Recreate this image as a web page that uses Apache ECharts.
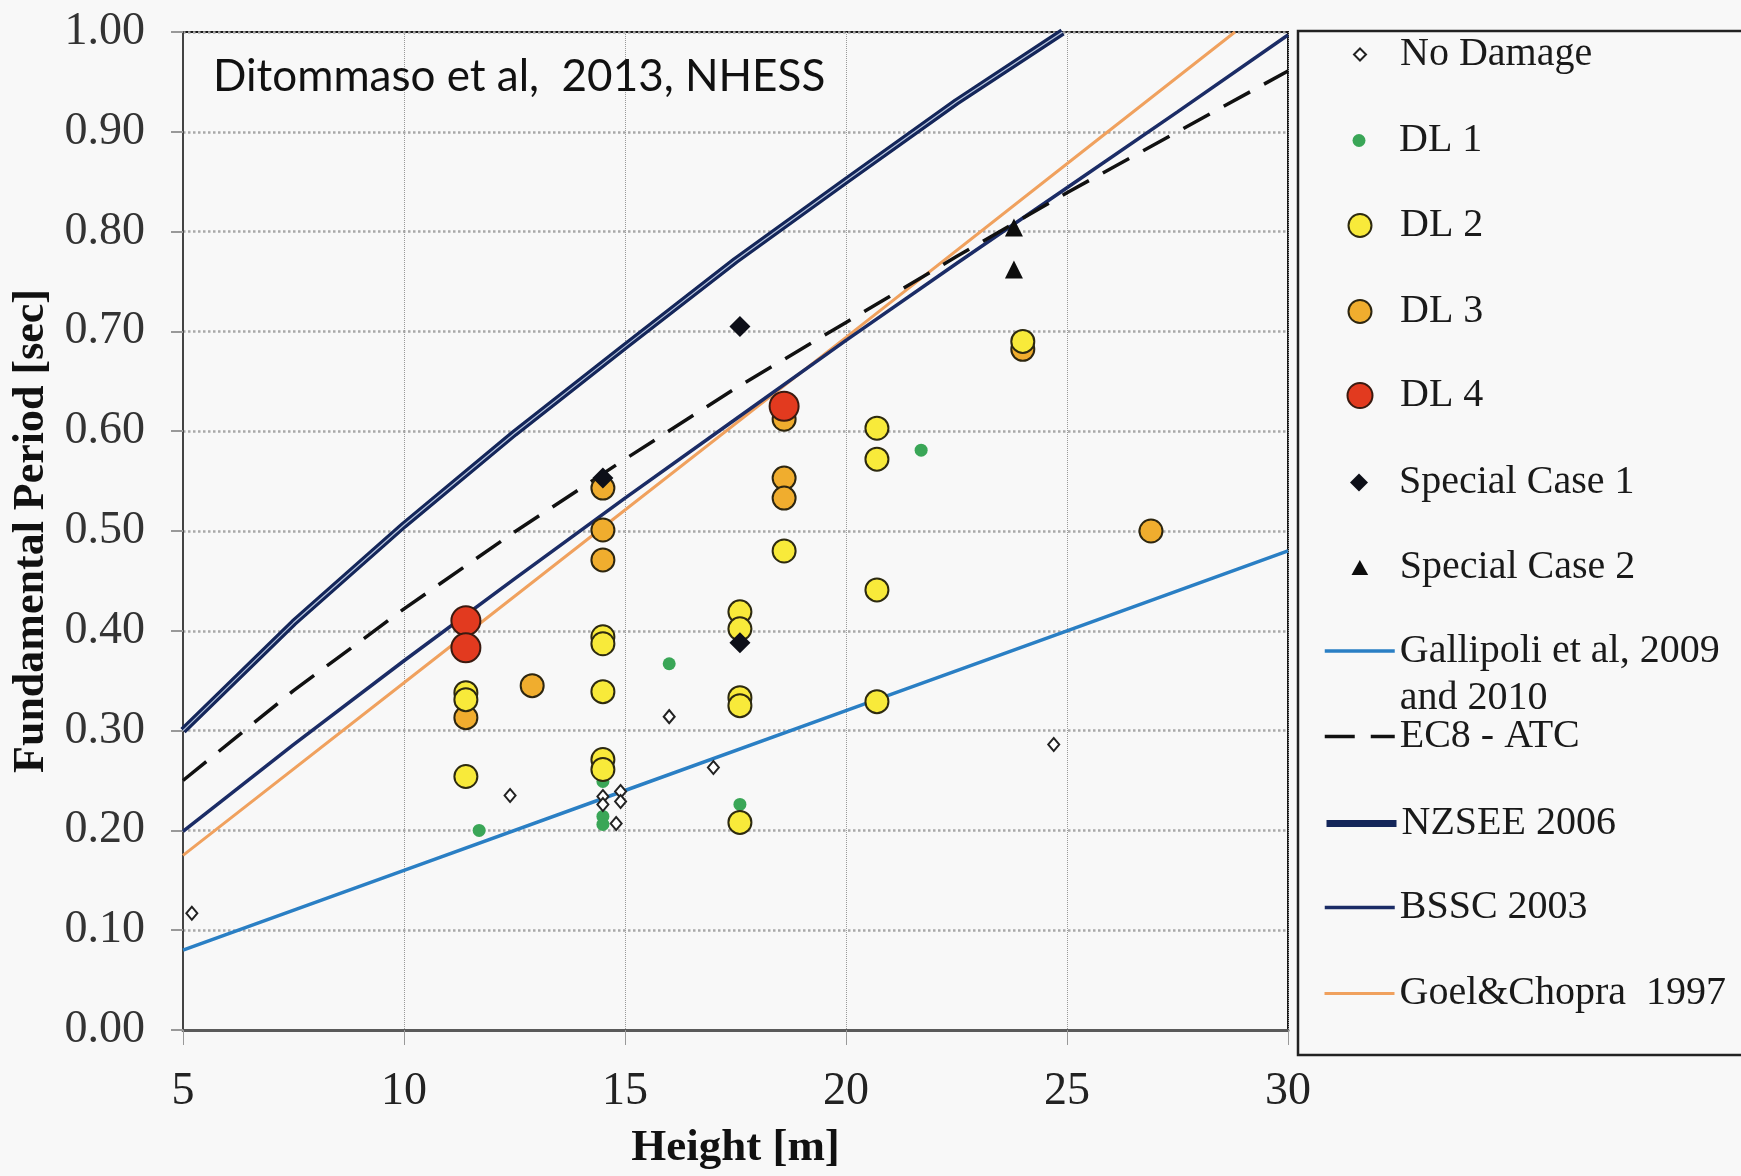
<!DOCTYPE html>
<html>
<head>
<meta charset="utf-8">
<title>Fundamental period vs height</title>
<script src="https://cdn.jsdelivr.net/npm/echarts@6/dist/echarts.min.js"></script>
<style>
  html, body { margin: 0; padding: 0; background: #f8f8f8; }
  #chart { width: 1741px; height: 1176px; }
</style>
</head>
<body>
<div id="chart"></div>
<script>
// axis ticks
const xTicks = [5, 10, 15, 20, 25, 30]
const yTicks = [0, 0.1, 0.2, 0.3, 0.4, 0.5, 0.6, 0.7, 0.8, 0.9, 1.0]

const noDamage = [[5.2, 0.117], [12.4, 0.235], [14.5, 0.234], [14.5, 0.226], [14.9, 0.239],
  [14.9, 0.229], [14.8, 0.207], [16.0, 0.314], [17.0, 0.263], [24.7, 0.286]]
const dl1 = [[11.7, 0.200], [14.5, 0.249], [14.5, 0.214], [14.5, 0.206], [16.0, 0.367],
  [17.6, 0.226], [21.7, 0.581]]
const dl2 = [[11.4, 0.338], [11.4, 0.331], [11.4, 0.254], [14.5, 0.394], [14.5, 0.387],
  [14.5, 0.339], [14.5, 0.271], [14.5, 0.261], [17.6, 0.419], [17.6, 0.402], [17.6, 0.333],
  [17.6, 0.325], [17.6, 0.208], [18.6, 0.480], [20.7, 0.603], [20.7, 0.572], [20.7, 0.441],
  [20.7, 0.329], [24.0, 0.690]]
const dl3 = [[11.4, 0.313], [12.9, 0.345], [14.5, 0.543], [14.5, 0.501], [14.5, 0.471],
  [18.6, 0.612], [18.6, 0.553], [18.6, 0.533], [24.0, 0.682], [26.9, 0.500]]
const dl4 = [[11.4, 0.410], [11.4, 0.383], [18.6, 0.625]]
const special1 = [[14.5, 0.553], [17.6, 0.705], [17.6, 0.388]]
const special2 = [[23.8, 0.804], [23.8, 0.762]]

// period-height relationships, points
const gallipoli = [[5, 0.08], [10, 0.16], [15, 0.24], [20, 0.32], [25, 0.40], [30, 0.48]]
const ec8 = [[5, 0.25], [7.5, 0.34], [10, 0.422], [12.5, 0.499], [15, 0.572], [17.5, 0.643],
  [20, 0.709], [22.5, 0.775], [25, 0.839], [27.5, 0.90], [30, 0.961]]
const nzsee = [[5, 0.30], [7.5, 0.408], [10, 0.506], [12.5, 0.598], [15, 0.685], [17.5, 0.771],
  [20, 0.851], [22.5, 0.93], [24.9, 1.0]]
const bssc = [[5, 0.199], [7.5, 0.286], [10, 0.37], [12.5, 0.452], [15, 0.533], [17.5, 0.612],
  [20, 0.691], [22.5, 0.768], [25, 0.844], [27.5, 0.92], [30, 0.997]]
const goel = [[5, 0.175], [10, 0.348], [15, 0.521], [20, 0.694], [25, 0.868], [28.8, 1.0]]

const serif = 'Liberation Serif'
const chart = echarts.init(document.getElementById('chart'))

// one legend per row so each marker keeps its own size.
// markers are centred on x=1359, text starts at x=1399
const legendRows = [
  { name: 'No Damage', y: 53, h: 12, icon: 'path://M0,-1L1,0L0,1L-1,0Z' },
  { name: 'DL 1', y: 139, h: 13 },
  { name: 'DL 2', y: 224, h: 23 },
  { name: 'DL 3', y: 310, h: 23 },
  { name: 'DL 4', y: 394, h: 25 },
  { name: 'Special Case 1', y: 481, h: 18, icon: 'path://M0,-1L1,0L0,1L-1,0Z' },
  { name: 'Special Case 2', y: 566, h: 15, icon: 'path://M0,-1L1,0.8L-1,0.8Z' },
  { name: 'Gallipoli et al, 2009', y: 651, line: 3.5, text: '\nGallipoli et al, 2009\nand 2010' },
  { name: 'EC8 - ATC', y: 735, line: 3.5 },
  { name: 'NZSEE 2006', y: 822, line: 7 },
  { name: 'BSSC 2003', y: 906, line: 3.5 },
  { name: 'Goel&Chopra  1997', y: 992, line: 3 }
]

const legendText = { fontFamily: serif, fontSize: 40, color: '#1a1a1a' }

const legends = legendRows.map(r => {
  const base = {
    data: [r.icon ? { name: r.name, icon: r.icon } : r.name],
    orient: 'vertical',
    padding: 0,
    itemWidth: 70,
    selectedMode: false
  }
  if (r.line) {
    return Object.assign(base, {
      left: 1323,
      top: r.text ? r.y - 70.5 : r.y - 18.5,
      itemHeight: 14,
      formatter: r.text ? () => r.text : '{name}',
      itemStyle: { color: 'transparent', borderWidth: 0, opacity: 0 },
      lineStyle: { width: r.line },
      textStyle: r.text ? Object.assign({ lineHeight: 47 }, legendText) : legendText
    })
  }
  return Object.assign(base, {
    left: 1359 - r.h / 2,
    top: r.y - 18.5,
    itemHeight: r.h,
    textStyle: legendText
  })
})

const curve = (name, data, color, width, type) => ({
  name,
  type: 'line',
  data,
  symbol: 'none',
  clip: true,
  silent: true,
  lineStyle: { color, width, type: type || 'solid' },
  itemStyle: { color },
  z: 2
})

const points = (name, data, symbol, size, style) => ({
  name,
  type: 'scatter',
  data,
  symbol,
  symbolSize: size,
  itemStyle: Object.assign({ opacity: 1 }, style),
  emphasis: { disabled: true },
  z: 3
})

chart.setOption({
  backgroundColor: '#f8f8f8',
  animation: false,
  title: {
    text: 'Ditommaso et al,  2013, NHESS',
    left: 208,
    top: 50,
    textStyle: { fontFamily: 'Lato', fontSize: 44, fontWeight: 'normal', color: '#111' }
  },
  grid: {
    left: 183, top: 32, width: 1105, height: 1001,
    show: true, borderColor: '#1a1a1a', borderWidth: 2, backgroundColor: 'transparent'
  },
  legend: legends,
  xAxis: {
    type: 'value',
    min: xTicks[0],
    max: xTicks[xTicks.length - 1],
    interval: xTicks[1] - xTicks[0],
    name: 'Height [m]',
    nameLocation: 'middle',
    nameGap: 96,
    nameTextStyle: { fontFamily: serif, fontSize: 45, fontWeight: 'bold', color: '#111' },
    axisLine: { show: true, lineStyle: { color: '#5a5a5a', width: 3 } },
    axisTick: { show: true, length: 15, lineStyle: { color: '#999', width: 1 } },
    axisLabel: { fontFamily: serif, fontSize: 46, color: '#222', margin: 39 },
    splitLine: { show: true, lineStyle: { color: '#999', width: 1, type: 'dotted' } }
  },
  yAxis: {
    type: 'value',
    min: yTicks[0],
    max: yTicks[yTicks.length - 1],
    interval: 0.1,
    name: 'Fundamental Period [sec]',
    nameLocation: 'middle',
    nameGap: 125,
    nameTextStyle: { fontFamily: serif, fontSize: 44, fontWeight: 'bold', color: '#111' },
    axisLine: { show: true, lineStyle: { color: '#444', width: 2 } },
    axisTick: { show: true, length: 12, lineStyle: { color: '#999', width: 2 } },
    axisLabel: {
      fontFamily: serif, fontSize: 46, color: '#333', margin: 38,
      formatter: v => v.toFixed(2)
    },
    splitLine: { show: true, lineStyle: { color: '#a8a8a8', width: 2.5, type: 'dotted' } }
  },
  graphic: [{
    type: 'rect',
    shape: { x: 1298, y: 31, width: 480, height: 1024 },
    style: { fill: 'none', stroke: '#222', lineWidth: 2.5 },
    silent: true
  }],
  series: [
    curve('Gallipoli et al, 2009', gallipoli, '#2a7fc4', 3.5),
    curve('Goel&Chopra  1997', goel, '#f0a15e', 3),
    curve('BSSC 2003', bssc, '#1b2c66', 3.5),
    curve('EC8 - ATC', ec8, '#111', 3.5, [30, 16]),
    curve('NZSEE 2006', nzsee, '#14265a', 7.5),
    // light stripe running inside the NZSEE line
    curve('', nzsee, '#b9c7e0', 1.2),
    points('DL 1', dl1, 'circle', 13, { color: '#3aa657' }),
    points('No Damage', noDamage, 'diamond', [11, 13], { color: '#ffffff', borderColor: '#222', borderWidth: 2 }),
    points('DL 3', dl3, 'circle', 23, { color: '#f0ad2e', borderColor: '#2d2610', borderWidth: 2 }),
    points('DL 2', dl2, 'circle', 23, { color: '#f8ea3a', borderColor: '#2d2a10', borderWidth: 2 }),
    points('DL 4', dl4, 'circle', 29, { color: '#e23a1f', borderColor: '#3a1a10', borderWidth: 2 }),
    points('Special Case 1', special1, 'diamond', 21, { color: '#0d0f18' }),
    points('Special Case 2', special2, 'triangle', 18, { color: '#0d0d0d' })
  ]
})
</script>
</body>
</html>
